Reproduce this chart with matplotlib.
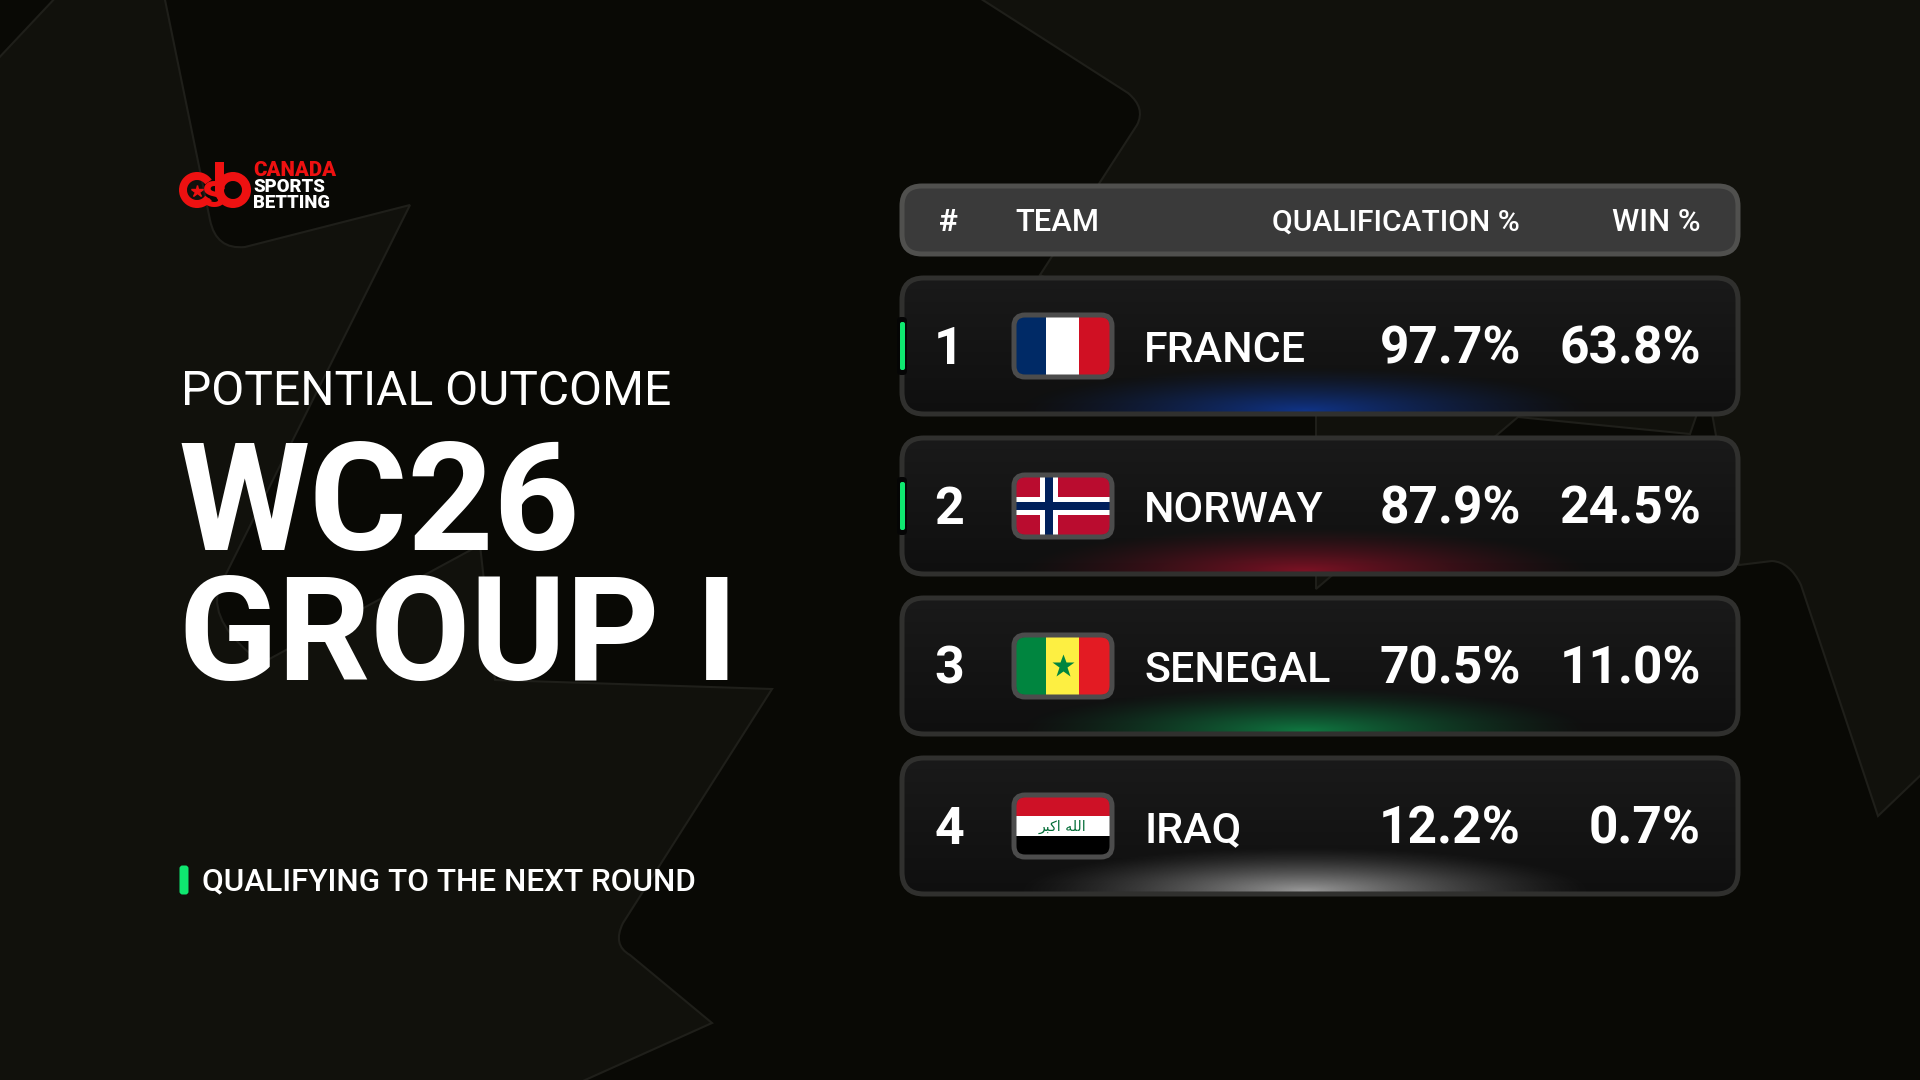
import numpy as np
import matplotlib
matplotlib.use("Agg")
import matplotlib.pyplot as plt
from matplotlib.patches import FancyBboxPatch, Rectangle, Wedge, PathPatch
from matplotlib.path import Path

plt.rcParams['font.family'] = ['Roboto', 'DejaVu Sans']

# data
ranks = [1, 2, 3, 4]
teams = ["FRANCE", "NORWAY", "SENEGAL", "IRAQ"]
qualification = [97.7, 87.9, 70.5, 12.2]
win = [63.8, 24.5, 11.0, 0.7]
qualified = [True, True, False, False]
glow_colors = ["#0f3a9c", "#8f1228", "#0f8a4a", "#b0b0b0"]
header_labels = ["#", "TEAM", "QUALIFICATION %", "WIN %"]

BG_DARK = "#090905"
BG_LIGHT = "#11110c"
BG_EDGE = "#1f1f1a"
GREEN = "#0fe870"
WHITE = "#ffffff"
LOGO_RED = "#ee1111"

def px(size):
    # font size in pixels to points at dpi 100
    return size * 0.72

fig = plt.figure(figsize=(19.2, 10.8), dpi=100, facecolor=BG_DARK)
ax = fig.add_axes([0, 0, 1, 1])
ax.set_axis_off()

#%% background leaves
M, L, C = Path.MOVETO, Path.LINETO, Path.CURVE3
left_leaf = [
    (-5, 62, M), (58, -5, L), (164, -5, L), (210, 220, L), (216, 250, C), (245, 247, C),
    (410, 205, L), (218, 590, L), (210, 625, C), (262, 663, C), (480, 545, L), (495, 680, L),
    (772, 689, L), (623, 923, L), (612, 945, C), (630, 955, C), (712, 1023, L), (574, 1085, L),
    (-5, 1085, L), (-5, 62, L),
]
right_leaf = [
    (975, -5, M), (1128, 93, L), (1146, 108, C), (1137, 125, C), (1040, 275, L), (1316, 400, L),
    (1316, 589, L), (1518, 417, L), (1690, 434, L), (1707, 385, L), (1739, 565, L), (1772, 561, L),
    (1790, 562, C), (1801, 585, C), (1878, 816, L), (1925, 771, L), (1925, -5, L), (975, -5, L),
]
for leaf in (left_leaf, right_leaf):
    verts = [(p[0], p[1]) for p in leaf]
    codes = [p[2] for p in leaf]
    ax.add_patch(PathPatch(Path(verts, codes), facecolor=BG_LIGHT, edgecolor=BG_EDGE, lw=1.5, zorder=1))

#%% left side text
ax.text(181, 405, "POTENTIAL OUTCOME", color=WHITE, fontsize=px(48), fontweight='normal', va='baseline', zorder=5)
ax.text(178, 550, "WC26", color=WHITE, fontsize=px(150), fontweight='bold', va='baseline', zorder=5)
ax.text(179, 680, "GROUP I", color=WHITE, fontsize=px(145), fontweight='bold', va='baseline', zorder=5)
ax.add_patch(FancyBboxPatch((181, 867), 6, 26, boxstyle="round,pad=1.5,rounding_size=3", fc=GREEN, ec='none', zorder=5))
ax.text(202, 890, "QUALIFYING TO THE NEXT ROUND", color=WHITE, fontsize=px(31.5), fontweight='medium', va='baseline', zorder=5)

#%% logo
ax.add_patch(Wedge((197, 190), 18, 35, 325, width=8, fc=LOGO_RED, ec='none', zorder=5))
ax.add_patch(Wedge((233, 190), 18, 0, 360, width=9, fc=LOGO_RED, ec='none', zorder=5))
ax.add_patch(Rectangle((215, 162), 9, 28, fc=LOGO_RED, ec='none', zorder=5))
ax.text(214, 207, "s", color=LOGO_RED, fontsize=px(48), fontweight='bold', ha='center', va='baseline', zorder=6)
ax.plot([197], [191], marker='*', ms=9, color=LOGO_RED, zorder=6)
ax.text(253, 176.5, "CANADA", color=LOGO_RED, fontsize=px(20.5), fontweight='black', va='baseline', zorder=6)
ax.text(253, 192, "SPORTS", color=WHITE, fontsize=px(18.5), fontweight='black', va='baseline', zorder=6)
ax.text(253, 208, "BETTING", color=WHITE, fontsize=px(18.5), fontweight='black', va='baseline', zorder=6)

#%% table header
TX0, TX1 = 900, 1740
ax.add_patch(FancyBboxPatch((TX0 + 2, 186), TX1 - TX0 - 4, 68, boxstyle="round,pad=0,rounding_size=20",
                            fc="#3a3a3a", ec="#50504e", lw=3.6, zorder=3))
ax.text(949, 231, header_labels[0], color=WHITE, fontsize=px(32), fontweight='bold', ha='center', va='baseline', zorder=5)
ax.text(1015, 231, header_labels[1], color=WHITE, fontsize=px(31), fontweight='medium', va='baseline', zorder=5)
ax.text(1520, 231, header_labels[2], color=WHITE, fontsize=px(30), fontweight='medium', ha='right', va='baseline', zorder=5)
ax.text(1701, 231, header_labels[3], color=WHITE, fontsize=px(31), fontweight='medium', ha='right', va='baseline', zorder=5)

#%% flags
def draw_flag(team, cy):
    x0, x1, y0, y1 = 1016, 1110, cy - 29, cy + 29
    clip = FancyBboxPatch((x0, y0), x1 - x0, y1 - y0, boxstyle="round,pad=0,rounding_size=9",
                          fc='none', ec='none', zorder=6)
    ax.add_patch(clip)
    w, h = x1 - x0, y1 - y0
    shapes = []
    if team == "FRANCE":
        shapes = [(x0, y0, 30, h, "#002a66"), (x0 + 30, y0, 33, h, "#ffffff"), (x0 + 63, y0, 31, h, "#d01023")]
    elif team == "NORWAY":
        shapes = [(x0, y0, w, h, "#ba0c2f"),
                  (x0 + 24, y0, 18, h, "#ffffff"), (x0, cy - 9, w, 18, "#ffffff"),
                  (x0 + 29, y0, 8, h, "#00205b"), (x0, cy - 4, w, 8, "#00205b")]
    elif team == "SENEGAL":
        shapes = [(x0, y0, 30, h, "#00853f"), (x0 + 30, y0, 33, h, "#fdef42"), (x0 + 63, y0, 31, h, "#e31b23")]
    elif team == "IRAQ":
        shapes = [(x0, y0, w, 19, "#ce1126"), (x0, y0 + 19, w, 20, "#ffffff"), (x0, y0 + 39, w, 19, "#000000")]
    for sx, sy, sw, sh, col in shapes:
        r = Rectangle((sx, sy), sw, sh, fc=col, ec='none', zorder=6)
        ax.add_patch(r)
        r.set_clip_path(clip)
    if team == "SENEGAL":
        ax.plot([(x0 + x1) / 2], [cy], marker='*', ms=17, color="#00853f", mec='none', zorder=7)
    if team == "IRAQ":
        # presentation forms, written in visual order since there is no bidi here
        ax.text((x0 + x1) / 2, cy + 1, "\uFEAE\uFE92\uFEDB\uFE8D \uFEEA\uFEE0\uFEDF\uFE8D", color="#006b35",
                fontsize=px(14), family='DejaVu Sans', ha='center', va='center', zorder=7)
    ax.add_patch(FancyBboxPatch((x0 - 2, y0 - 2), w + 4, h + 4, boxstyle="round,pad=0,rounding_size=11",
                                fc='none', ec="#4c4c4c", lw=3.6, zorder=8))

#%% rows
row_tops = [276, 436, 596, 756]
row_h = 140
bx = np.linspace(TX0, TX1, 840)
vert = np.linspace(0, 1, 140)

for i, top in enumerate(row_tops):
    cy = top + row_h / 2
    clip = FancyBboxPatch((TX0 + 2, top + 2), TX1 - TX0 - 4, row_h - 4, boxstyle="round,pad=0,rounding_size=22",
                          fc="#141414", ec='none', zorder=3)
    ax.add_patch(clip)
    # panel fill gets darker towards the bottom
    shade = np.zeros((140, 1, 3))
    shade[:, 0, 0] = shade[:, 0, 1] = shade[:, 0, 2] = (26 - 11 * vert) / 255
    im = ax.imshow(shade, extent=(TX0, TX1, top + row_h, top), aspect='auto', zorder=3.1)
    im.set_clip_path(clip)
    # coloured glow along the bottom edge
    rgb = matplotlib.colors.to_rgb(glow_colors[i])
    yy = np.linspace(top, top + row_h, 140)
    X, Y = np.meshgrid(bx, yy)
    r = np.sqrt(((X - 1305) / 290) ** 2 + ((Y - (top + row_h - 5)) / 44) ** 2)
    glow = np.zeros(X.shape + (4,))
    glow[..., 0], glow[..., 1], glow[..., 2] = rgb
    glow[..., 3] = np.clip(1 - r, 0, 1) ** 1.35 * 0.85
    im2 = ax.imshow(glow, extent=(TX0, TX1, top, top + row_h), aspect='auto', origin='lower', zorder=3.2)
    im2.set_clip_path(clip)
    ax.add_patch(FancyBboxPatch((TX0 + 2, top + 2), TX1 - TX0 - 4, row_h - 4, boxstyle="round,pad=0,rounding_size=22",
                                fc='none', ec="#30302e", lw=3.6, zorder=4))
    if qualified[i]:
        ax.add_patch(FancyBboxPatch((897, cy - 29), 10, 58, boxstyle="round,pad=0,rounding_size=4", fc="#050505", ec='none', zorder=4.5))
        ax.add_patch(FancyBboxPatch((900, cy - 24), 5, 48, boxstyle="round,pad=0,rounding_size=2", fc=GREEN, ec='none', zorder=5))
    ax.text(949, cy + 18, str(ranks[i]), color=WHITE, fontsize=px(52), fontweight='bold', ha='center', va='baseline', zorder=5)
    draw_flag(teams[i], cy)
    ax.text(1144, cy + 16, teams[i], color=WHITE, fontsize=px(43), fontweight='medium', va='baseline', zorder=5)
    ax.text(1521, cy + 18, f"{qualification[i]:.1f}%", color=WHITE, fontsize=px(51.5), fontweight='bold', ha='right', va='baseline', zorder=5)
    ax.text(1701, cy + 18, f"{win[i]:.1f}%", color=WHITE, fontsize=px(51.5), fontweight='bold', ha='right', va='baseline', zorder=5)

ax.set_xlim(0, 1920)
ax.set_ylim(1080, 0)
fig.savefig("out.png", dpi=100, facecolor=fig.get_facecolor())
